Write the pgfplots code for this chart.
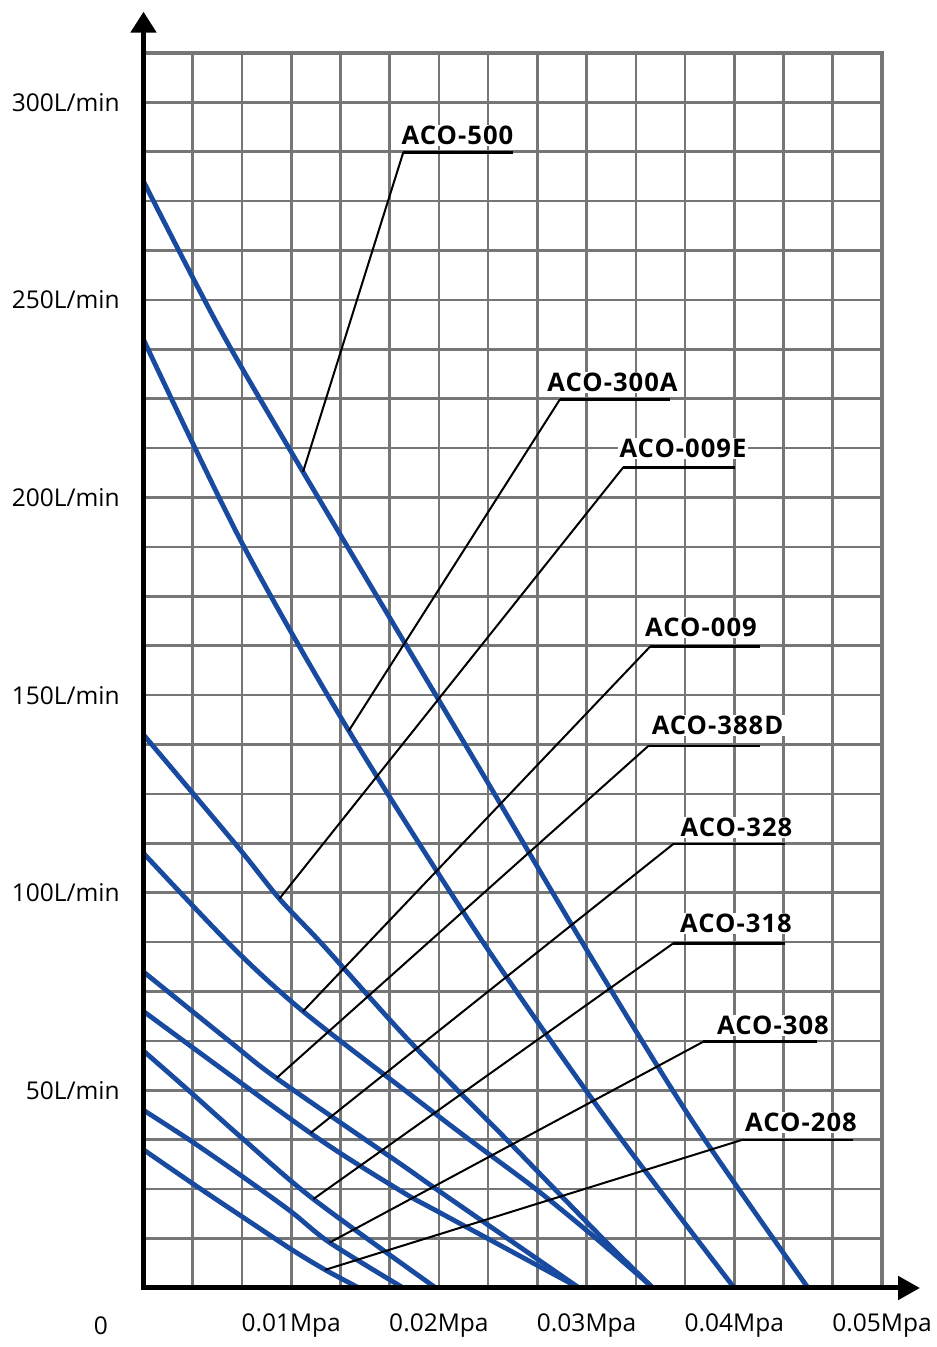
\documentclass[border=0pt]{standalone}
\usepackage{fontspec}
\setmainfont{Open Sans}
\usepackage{pgfplots}
\pgfplotsset{compat=1.18}
\usetikzlibrary{arrows.meta}

\definecolor{curve}{RGB}{24,74,160}
\definecolor{gridc}{RGB}{118,118,118}

\newcommand\ticksize{\fontsize{12.25pt}{14pt}\selectfont}
\newcommand\labsize{\bfseries\fontsize{12.8pt}{14pt}\selectfont\addfontfeatures{LetterSpace=4}}

\pgfplotsset{pump/.style={curve, line width=2.4pt, smooth, no markers, solid}}

\begin{document}
\begin{tikzpicture}
\useasboundingbox (0,0) rectangle (468pt,673.5pt);
\begin{axis}[
    at={(71.75pt,29.5pt)}, anchor=south west,
    scale only axis, width=369.25pt, height=617.5pt,
    xmin=0, xmax=0.05, ymin=0, ymax=312.5,
    axis line style={draw=none},
    xtick={0,0.01,0.02,0.03,0.04,0.05},
    xticklabels={,0.01Mpa,0.02Mpa,0.03Mpa,0.04Mpa,0.05Mpa},
    ytick={0,50,100,150,200,250,300},
    yticklabels={,50L/min,100L/min,150L/min,200L/min,250L/min,300L/min},
    minor x tick num=2,
    minor y tick num=3,
    major tick length=0pt, minor tick length=0pt,
    grid=both,
    major grid style={gridc, line width=1.3pt},
    minor grid style={gridc, line width=1.3pt},
    xticklabel style={font=\ticksize, anchor=north, yshift=-9.5pt},
    yticklabel style={font=\ticksize, anchor=east, xshift=-8.4pt},
]
    % ACO-500
    \addplot[pump] coordinates {(0,280) (0.0052,242.5) (0.0108,206.5) (0.0225,133) (0.030,85.6) (0.0372,42) (0.045,0)};
    % ACO-300A
    \addplot[pump] coordinates {(0,240) (0.0066,189) (0.0139,141) (0.0229,88) (0.0314,42.5) (0.040,0)};
    % ACO-009E
    \addplot[pump] coordinates {(0,140) (0.0063,112) (0.0092,98.5) (0.0121,87) (0.018,62.5) (0.0246,37.5) (0.0311,12.5) (0.0345,0)};
    % ACO-009
    \addplot[pump] coordinates {(0,110) (0.0061,86) (0.0108,70) (0.0177,50) (0.0219,38) (0.0264,25.5) (0.0305,13) (0.0345,0)};
    % ACO-388D
    \addplot[pump] coordinates {(0,80) (0.0058,62.5) (0.009,53.1) (0.0174,31.4) (0.0201,24.3) (0.0295,0)};
    % ACO-328
    \addplot[pump] coordinates {(0,70) (0.0113,39.2) (0.0174,24.6) (0.0201,19) (0.0295,0)};
    % ACO-318
    \addplot[pump] coordinates {(0,60) (0.0032,49.5) (0.0068,37.5) (0.0115,22.5) (0.0198,0)};
    % ACO-308
    \addplot[pump] coordinates {(0,45) (0.0033,37) (0.0067,28.2) (0.01,19.3) (0.0126,11.5) (0.0176,0)};
    % ACO-208
    \addplot[pump] coordinates {(0,35) (0.0033,26.5) (0.0067,18) (0.01,9.8) (0.0123,4.6) (0.0146,0)};

    \coordinate (e1) at (axis cs:0.0108,206.5);
    \coordinate (e2) at (axis cs:0.0139,141);
    \coordinate (e3) at (axis cs:0.0092,98.5);
    \coordinate (e4) at (axis cs:0.0108,70);
    \coordinate (e5) at (axis cs:0.009,53.1);
    \coordinate (e6) at (axis cs:0.0113,39.2);
    \coordinate (e7) at (axis cs:0.0115,22.5);
    \coordinate (e8) at (axis cs:0.0126,11.5);
    \coordinate (e9) at (axis cs:0.0123,4.6);
\end{axis}

\begin{scope}[x=0.5pt, y=-0.5pt, yshift=673.5pt]
    % frame top and right
    \draw[gridc, line width=2.3pt] (143.5,53) -- (882,53) -- (882,1288);
    % labels with leaders
    \foreach \cx/\base/\xa/\xb/\yu/\e/\txt in {
        457.5/145/403.3/513.3/152.3/e1/ACO-500,
        612.5/392/560/670/399.3/e2/ACO-300A,
        683/458/623.3/735/467.3/e3/ACO-009E,
        701/637/650/760/646.7/e4/ACO-009,
        717.5/735/648.3/760/746/e5/ACO-388D,
        736.5/837/673.3/785/844/e6/ACO-328,
        736/933/673.3/785/943.3/e7/ACO-318,
        773/1035/703.3/816.7/1041.7/e8/ACO-308,
        801/1132/741.7/853.3/1140/e9/ACO-208}{
        \draw[black, line width=1pt] (\xa,\yu) -- (\e);
        \draw[black, line width=1.4pt] (\xa,\yu) -- (\xb,\yu);
        \node[anchor=base, fill=white, inner xsep=1pt, inner ysep=0.5pt, font=\labsize] at (\cx,\base) {\txt};
    }
    % axes with arrows
    \draw[black, line width=2.5pt, -{Triangle[length=10.5pt,width=12.5pt]}] (143.5,1290) -- (143.5,11.7);
    \draw[black, line width=2.5pt, -{Triangle[length=11pt,width=11.5pt]}] (141,1288) -- (920,1288);
    \node[font=\ticksize] at (101,1326) {0};
\end{scope}
\end{tikzpicture}
\end{document}
